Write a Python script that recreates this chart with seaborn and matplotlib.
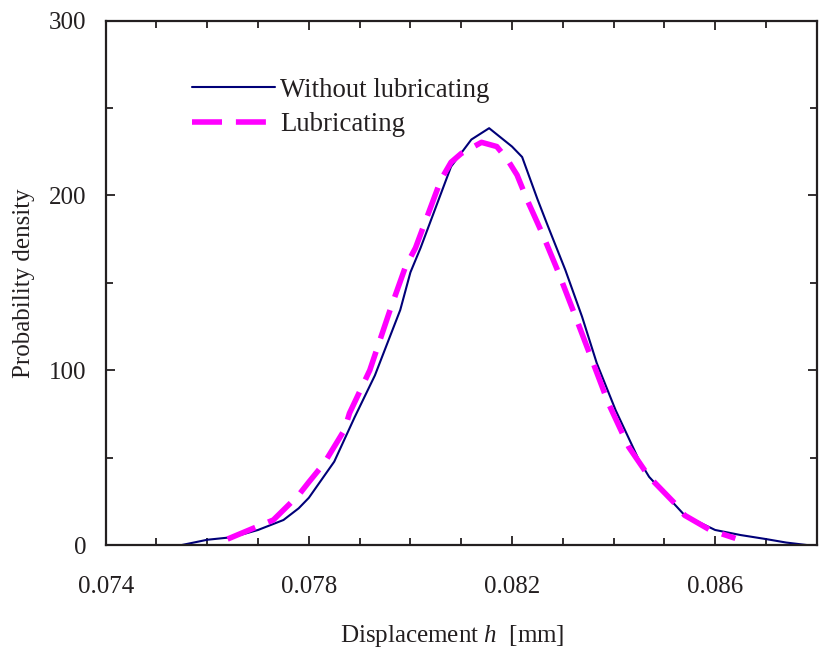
import numpy as np
import pandas as pd
import matplotlib
matplotlib.use("Agg")
import matplotlib.pyplot as plt
import seaborn as sns
from matplotlib.ticker import MultipleLocator

# ---- data ----
x_without = [0.0755, 0.0760, 0.0765, 0.0770, 0.0775, 0.0778, 0.0780, 0.0785, 0.0789, 0.0793,
             0.0795, 0.0798, 0.0800, 0.0802, 0.0806, 0.0808, 0.0812, 0.08155, 0.0820,
             0.0822, 0.0823, 0.0825, 0.0827, 0.08305, 0.08338, 0.08367, 0.08404, 0.0845, 0.0847,
             0.0850, 0.0854, 0.0860, 0.0865, 0.0870, 0.0874, 0.0878]
y_without = [0, 3, 4.5, 8.6, 14.3, 21, 27, 47.7, 73, 97,
             112, 134.5, 156, 170, 201, 216.5, 232, 238.5, 228,
             222, 214, 198, 183, 157.4, 130.6, 104, 77.2, 48.6, 39,
             29.6, 17, 8.6, 5.7, 3.4, 1.4, 0]

x_lub = [0.0764, 0.0769, 0.0773, 0.0778, 0.0780, 0.0783, 0.0787, 0.0788, 0.0792, 0.0796,
         0.0799, 0.0801, 0.0806, 0.0808, 0.0810, 0.0814, 0.0817, 0.0819, 0.0821, 0.0823,
         0.0826, 0.0829, 0.0832, 0.0836, 0.0839, 0.0843, 0.0847, 0.0852, 0.0854, 0.0859,
         0.0864]
y_lub = [3.4, 9.5, 14.3, 28.6, 36, 46.7, 65.8, 75.4, 100, 134.5,
         159, 170, 209, 219, 224, 230.4, 228, 221, 211.7, 197.4,
         178, 157, 134.5, 104, 81, 56, 39, 24, 17, 8.6,
         3.8]

label_without = "Without lubricating"
label_lub = "Lubricating"
x_ticks = [0.074, 0.078, 0.082, 0.086]
x_ticklabels = ["0.074", "0.078", "0.082", "0.086"]
y_ticks = [0, 100, 200, 300]

# ---- style ----
sns.set_style("ticks")
plt.rcParams["font.family"] = ["Liberation Serif", "DejaVu Serif"]
plt.rcParams["mathtext.fontset"] = "custom"
plt.rcParams["mathtext.rm"] = "Liberation Serif"
plt.rcParams["mathtext.it"] = "Liberation Serif:italic"

FS_TICK = 18
FS_LAB = 18
FS_LEG = 19.3
spine_col = "#231f20"

fig = plt.figure(figsize=(8.19, 6.51), dpi=100)
ax = fig.add_axes([105.7 / 819, 1 - 545 / 651, (816.7 - 105.7) / 819, (545 - 20.7) / 651])

df_w = pd.DataFrame({"x": x_without, "y": y_without})
df_l = pd.DataFrame({"x": x_lub, "y": y_lub})

sns.lineplot(data=df_w, x="x", y="y", ax=ax, color="#000078", lw=1.5,
             label=label_without, sort=False, estimator=None)
sns.lineplot(data=df_l, x="x", y="y", ax=ax, color="#ff00ff", lw=4,
             linestyle=(0, (5.4, 2.5)), label=label_lub, sort=False, estimator=None)

ax.set_xlim(0.074, 0.088)
ax.set_ylim(0, 300)
ax.set_xticks(x_ticks)
ax.set_xticklabels(x_ticklabels)
ax.set_yticks(y_ticks)
ax.xaxis.set_minor_locator(MultipleLocator(0.001))
ax.yaxis.set_minor_locator(MultipleLocator(50))

for s in ax.spines.values():
    s.set_visible(True)
    s.set_color(spine_col)
    s.set_linewidth(1.6)

ax.tick_params(axis="both", which="both", direction="in", top=True, right=True,
               color=spine_col, width=1.3, labelsize=FS_TICK, labelcolor=spine_col)
ax.tick_params(axis="both", which="major", length=6.5)
ax.tick_params(axis="both", which="minor", length=5)
ax.tick_params(axis="x", which="major", pad=22)
ax.tick_params(axis="y", which="major", pad=14)

ax.set_xlabel("Displacement $h$  [mm]", fontsize=FS_LAB, color=spine_col)
ax.set_ylabel("Probability density", fontsize=FS_LAB, color=spine_col)
ax.xaxis.set_label_coords(0.488, -0.148)
ax.yaxis.set_label_coords(-0.099, 0.5)

leg = ax.legend(loc="upper left", bbox_to_anchor=(0.121, 0.891), frameon=False,
                fontsize=FS_LEG, handlelength=3.1, handletextpad=0.19,
                labelspacing=0.34, borderpad=0, borderaxespad=0)
for t in leg.get_texts():
    t.set_color(spine_col)

fig.savefig("out.png", dpi=100)
